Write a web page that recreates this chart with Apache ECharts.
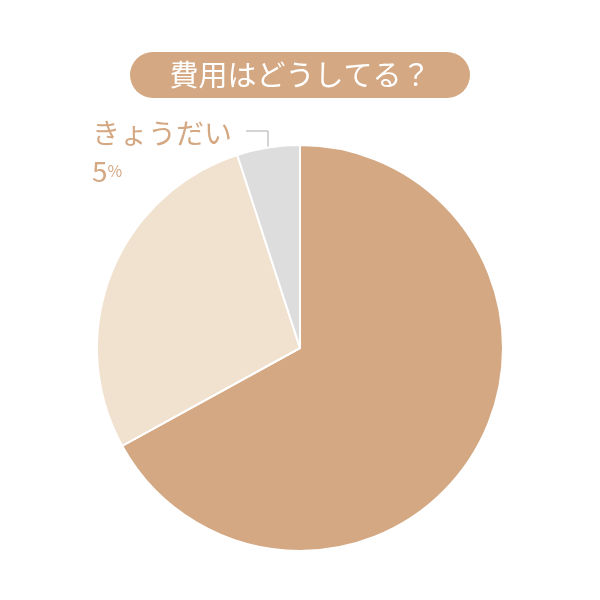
<!DOCTYPE html>
<html><head><meta charset="utf-8">
<script src="https://cdn.jsdelivr.net/npm/echarts@6/dist/echarts.min.js"></script>
<style>html,body{margin:0;padding:0;background:#fff}#c{width:600px;height:600px}</style>
</head><body><div id="c"></div>
<script>
const title = '費用はどうしてる？';
const categories = ['親の年金や貯金', '一部を自分たち夫婦', 'きょうだい'];
const labelLines = [['親の','年金や','貯金'], ['一部を','自分たち','夫婦'], ['きょうだい']];
const values = [67, 28, 5];
const colors = ['#D4A882', '#F1E1CF', '#DDDDDD'];
const F = '"Noto Sans CJK JP", sans-serif';
const chart = echarts.init(document.getElementById('c'));
function block(i, x, y, size, color, lh) {
  return {
    type: 'text', left: x, top: y,
    style: {
      text: labelLines[i].join('\n') + '\n{n|' + values[i] + '}{p|%}',
      font: '400 ' + size + 'px ' + F, fill: color, lineHeight: lh,
      rich: { n: { fontSize: size, fontFamily: F, fill: color, lineHeight: lh },
              p: { fontSize: size * 0.55, fontFamily: F, fill: color, lineHeight: lh } }
    }
  };
}
chart.setOption({
  animation: false,
  series: [{
    type: 'pie', center: [300, 348], radius: [0, 203], startAngle: 90, clockwise: true,
    label: { show: false }, labelLine: { show: false },
    itemStyle: { borderColor: '#fff', borderWidth: 2 },
    data: categories.map((c, i) => ({ name: c, value: values[i], itemStyle: { color: colors[i] } }))
  }],
  graphic: [
    { type: 'rect', shape: { x: 130, y: 52, width: 340, height: 46, r: 23 }, style: { fill: '#D4A882' } },
    { type: 'text', style: { text: title, x: 300, y: 75, align: 'center', verticalAlign: 'middle', font: '400 29px ' + F, fill: '#fff' } },
    block(0, 344, 272, 38, '#fff', 45),
    block(1, 138, 236, 33, '#D8B08E', 38),
    { type: 'text', left: 92, top: 114, style: { text: labelLines[2].join('') + '\n{n|' + values[2] + '}{p|%}', font: '400 28px ' + F, fill: '#D4A882', lineHeight: 38,
      rich: { n: { fontSize: 28, fontFamily: F, fill: '#D4A882', lineHeight: 38 }, p: { fontSize: 16, fontFamily: F, fill: '#D4A882', lineHeight: 38 } } } },
    { type: 'polyline', shape: { points: [[246, 131], [268, 131], [268, 157]] }, style: { stroke: '#aaa', lineWidth: 1, fill: null } }
  ]
});
</script></body></html>
